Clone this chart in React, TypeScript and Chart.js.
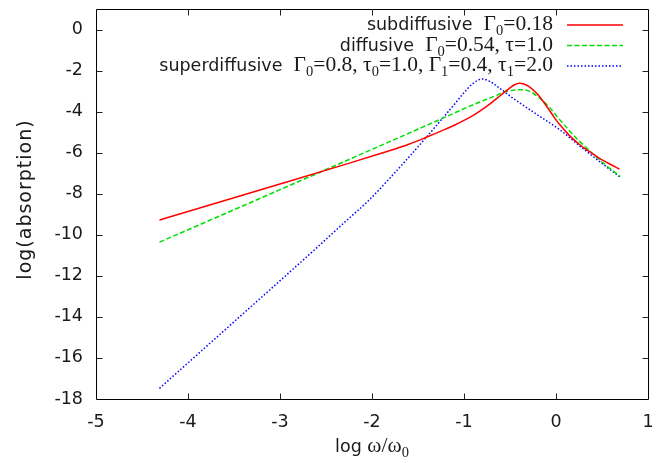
import React, { useEffect, useRef } from "react";
import { Chart, registerables } from "chart.js";

Chart.register(...registerables);

// ---- data ----
const xTickValues = [-5, -4, -3, -2, -1, 0, 1];
const yTickValues = [-18, -16, -14, -12, -10, -8, -6, -4, -2, 0];

const subX = [-4.31, -3.0, -2.245, -1.9, -1.6, -1.41, -1.2, -1.1, -1.0, -0.9, -0.8, -0.7, -0.6, -0.5, -0.45, -0.4, -0.35, -0.3, -0.2, -0.1, 0.0, 0.04, 0.15, 0.255, 0.38, 0.47, 0.58, 0.69];
const subY = [-9.28, -7.53, -6.51, -6.03, -5.59, -5.25, -4.85, -4.65, -4.43, -4.18, -3.89, -3.56, -3.2, -2.84, -2.69, -2.62, -2.65, -2.76, -3.15, -3.75, -4.4, -4.63, -5.18, -5.6, -6.0, -6.26, -6.54, -6.8];

const difX = [-4.31, -3.0, -2.0, -1.27, -0.83, -0.72, -0.6, -0.54, -0.45, -0.36, -0.27, -0.18, -0.07, 0.04, 0.15, 0.255, 0.38, 0.47, 0.58, 0.7];
const difY = [-10.36, -7.8, -5.84, -4.4, -3.53, -3.34, -3.12, -3.01, -2.95, -2.93, -3.05, -3.33, -3.8, -4.39, -4.95, -5.45, -5.97, -6.34, -6.75, -7.16];

const supX = [-4.31, -3.5, -2.625, -2.3, -2.03, -1.81, -1.6, -1.41, -1.23, -1.1, -1.0, -0.9, -0.8, -0.7, -0.6, -0.5, -0.4, -0.3, -0.18, 0.04, 0.255, 0.47, 0.7];
const supY = [-17.48, -14.24, -10.73, -9.4, -8.3, -7.26, -6.22, -5.25, -4.31, -3.62, -3.08, -2.62, -2.41, -2.58, -2.9, -3.24, -3.56, -3.86, -4.22, -4.88, -5.66, -6.42, -7.2];

const seriesNames = ["subdiffusive", "diffusive", "superdiffusive"];
// parameter text: [text, kind] where kind: r = serif, b = serif subscript
const seriesParams: [string, string][][] = [
  [["Γ", "r"], ["0", "b"], ["=0.18", "r"]],
  [["Γ", "r"], ["0", "b"], ["=0.54, τ=1.0", "r"]],
  [["Γ", "r"], ["0", "b"], ["=0.8, τ", "r"], ["0", "b"], ["=1.0, Γ", "r"], ["1", "b"], ["=0.4, τ", "r"], ["1", "b"], ["=2.0", "r"]],
];
const seriesColors = ["#ff0000", "#00e000", "#0000ff"];
const seriesDashes = [[], [5, 2.5], [1.5, 2]];

const xTitleSans = "log ";
const xTitleSerif = "ω/ω";
const xTitleSub = "0";
const yTitle = "log(absorption)";

const SANS = "'DejaVu Sans', 'Liberation Sans', sans-serif";
const SERIF = "'Liberation Serif', 'Times New Roman', serif";
const TEXT = "#1a1a1a";
const F_SANS = `17.5px ${SANS}`;
const F_SERIF = `21.5px ${SERIF}`;
const F_SUB = `14.5px ${SERIF}`;

function setLS(ctx: any, px: number) {
  try {
    ctx.letterSpacing = px + "px";
  } catch (e) {}
}

const framePlugin = {
  id: "frame",
  afterDraw(chart: any) {
    const { ctx, chartArea } = chart;
    const xs = chart.scales.x;
    const ys = chart.scales.y;
    const L = Math.round(chartArea.left) + 0.5;
    const R = Math.round(chartArea.right) + 0.5;
    const T = Math.round(chartArea.top) + 0.5;
    const B = Math.round(chartArea.bottom) + 0.5;
    ctx.save();
    setLS(ctx, 0);
    ctx.strokeStyle = "#000";
    ctx.lineWidth = 1;
    ctx.beginPath();
    ctx.rect(L, T, R - L, B - T);
    ctx.stroke();
    ctx.strokeStyle = "#222";
    ctx.beginPath();
    const tl = 6;
    xTickValues.forEach((v) => {
      const px = Math.round(xs.getPixelForValue(v)) + 0.5;
      if (px <= L + 1 || px >= R - 1) return;
      ctx.moveTo(px, B);
      ctx.lineTo(px, B - tl);
      ctx.moveTo(px, T);
      ctx.lineTo(px, T + tl);
    });
    yTickValues.forEach((v) => {
      const py = Math.round(ys.getPixelForValue(v)) + 0.5;
      if (py <= T + 1 || py >= B - 1) return;
      ctx.moveTo(L, py);
      ctx.lineTo(L + tl, py);
      ctx.moveTo(R, py);
      ctx.lineTo(R - tl, py);
    });
    ctx.stroke();

    // tick labels
    ctx.fillStyle = TEXT;
    ctx.font = F_SANS;
    ctx.textBaseline = "middle";
    ctx.textAlign = "center";
    xTickValues.forEach((v) => {
      ctx.fillText(String(v), xs.getPixelForValue(v), 422);
    });
    ctx.textAlign = "right";
    yTickValues.forEach((v) => {
      ctx.fillText(String(v), 83, ys.getPixelForValue(v));
    });

    // axis titles
    ctx.textBaseline = "alphabetic";
    ctx.textAlign = "left";
    const cx = (chartArea.left + chartArea.right) / 2;
    ctx.font = F_SANS;
    const w1 = ctx.measureText(xTitleSans).width;
    ctx.font = F_SERIF;
    const w2 = ctx.measureText(xTitleSerif).width;
    ctx.font = F_SUB;
    const w3 = ctx.measureText(xTitleSub).width;
    const x0 = cx - (w1 + w2 + w3) / 2;
    const by = 452;
    ctx.font = F_SANS;
    ctx.fillText(xTitleSans, x0, by);
    ctx.font = F_SERIF;
    ctx.fillText(xTitleSerif, x0 + w1, by);
    ctx.font = F_SUB;
    ctx.fillText(xTitleSub, x0 + w1 + w2, by + 5);

    ctx.save();
    ctx.translate(31, 200);
    ctx.rotate(-Math.PI / 2);
    ctx.font = `19px ${SANS}`;
    setLS(ctx, 1);
    const wy = ctx.measureText(yTitle).width - 1;
    ctx.fillText(yTitle, -wy / 2, 0);
    setLS(ctx, 0);
    ctx.restore();

    // legend
    const rightX = 553;
    const baseY = [30, 50.5, 71];
    const fontOf = (k: string) => (k === "s" ? F_SANS : k === "b" ? F_SUB : F_SERIF);
    seriesNames.forEach((name, i) => {
      const parts: [string, string][] = [[name + "  ", "s"], ...seriesParams[i]];
      let total = 0;
      const widths = parts.map(([t, k]) => {
        ctx.font = fontOf(k);
        const w = ctx.measureText(t).width;
        total += w;
        return w;
      });
      let x = rightX - total;
      parts.forEach(([t, k], j) => {
        ctx.font = fontOf(k);
        ctx.fillText(t, x, baseY[i] + (k === "b" ? 5 : 0));
        x += widths[j];
      });
      ctx.strokeStyle = seriesColors[i];
      ctx.lineWidth = 1.5;
      ctx.setLineDash(seriesDashes[i]);
      ctx.beginPath();
      ctx.moveTo(567, baseY[i] - 5);
      ctx.lineTo(623, baseY[i] - 5);
      ctx.stroke();
      ctx.setLineDash([]);
    });
    ctx.restore();
  },
};

export default function App() {
  const ref = useRef<HTMLCanvasElement>(null);
  useEffect(() => {
    if (!ref.current) return;
    const mk = (xs: number[], ys: number[]) => xs.map((x, i) => ({ x, y: ys[i] }));
    const dataArr = [mk(subX, subY), mk(difX, difY), mk(supX, supY)];
    const chart = new Chart(ref.current, {
      type: "line",
      data: {
        datasets: seriesNames.map((n, i) => ({
          label: n,
          data: dataArr[i],
          borderColor: seriesColors[i],
          borderWidth: 1.5,
          borderDash: seriesDashes[i],
          pointRadius: 0,
          fill: false,
          cubicInterpolationMode: "monotone" as const,
        })),
      },
      options: {
        responsive: false,
        animation: false,
        layout: { padding: { left: 0, top: 9, right: 15, bottom: 0 } },
        plugins: { legend: { display: false }, tooltip: { enabled: false } },
        scales: {
          x: {
            type: "linear",
            min: -5,
            max: 1,
            grid: { display: false, drawTicks: false },
            border: { display: false },
            afterBuildTicks: (s: any) => {
              s.ticks = xTickValues.map((v) => ({ value: v }));
            },
            afterFit: (s: any) => {
              s.height = 64;
            },
            ticks: { display: false },
          },
          y: {
            type: "linear",
            min: -18,
            max: 1,
            grid: { display: false, drawTicks: false },
            border: { display: false },
            afterBuildTicks: (s: any) => {
              s.ticks = yTickValues.map((v) => ({ value: v }));
            },
            afterFit: (s: any) => {
              s.width = 96;
            },
            ticks: { display: false },
          },
        },
      },
      plugins: [framePlugin],
    });
    return () => chart.destroy();
  }, []);
  return (
    <div style={{ position: "absolute", left: 0, top: 0, width: 663, height: 463, background: "#fff" }}>
      <canvas ref={ref} width={663} height={463} />
    </div>
  );
}
